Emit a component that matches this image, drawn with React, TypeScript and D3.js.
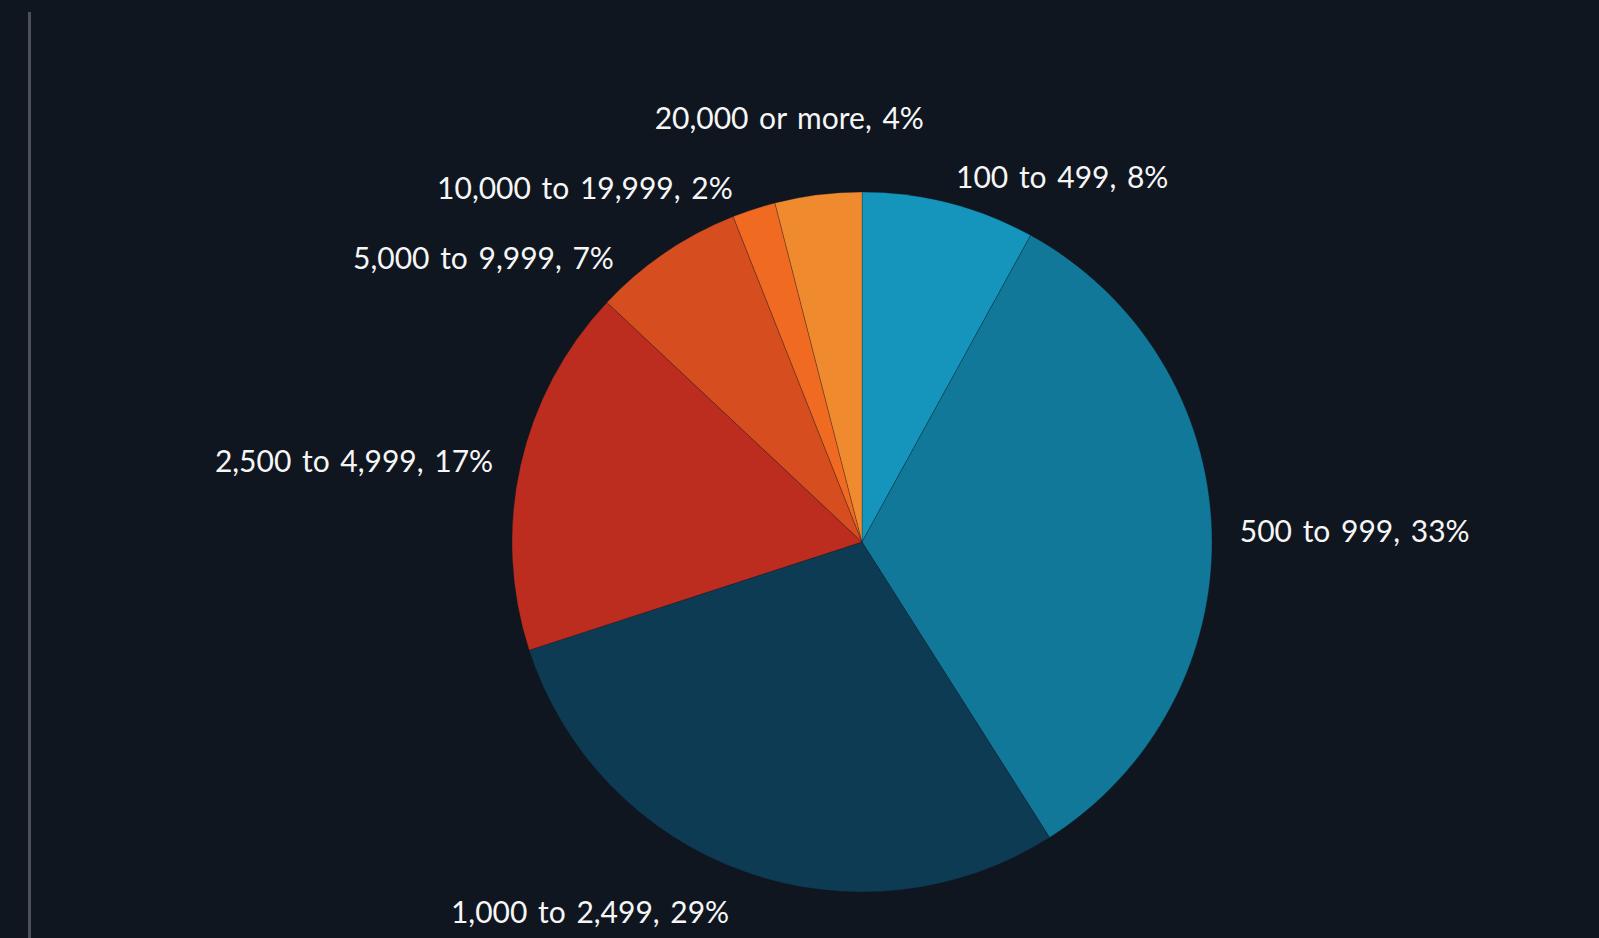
import React, { useMemo } from "react";
import * as d3 from "d3";

const categories = [
  "100 to 499",
  "500 to 999",
  "1,000 to 2,499",
  "2,500 to 4,999",
  "5,000 to 9,999",
  "10,000 to 19,999",
  "20,000 or more",
];
const shares = [8, 33, 29, 17, 7, 2, 4];
const sliceColors = ["#1594bc", "#127899", "#0e3b54", "#bc2d1f", "#d64e20", "#f06a22", "#f08a2f"];

const W = 1599;
const H = 938;
const BG = "#0f1620";
const FONT = "'Source Sans Pro', Lato, 'Open Sans', sans-serif";
const FONT_SIZE = 30;
const WORD_SPACING = 3;

type Lab = {
  text: string;
  v: number;
  s: number;
  c: number;
  anchor: "start" | "end" | "middle";
  x: number;
  y: number;
  w: number;
  side: number;
};

export default function App() {
  const cx = 862;
  const cy = 542;
  const r = 350;

  const arcs = useMemo(() => {
    const pie = d3.pie<number>().sort(null).value((d) => d);
    return pie(shares);
  }, []);

  const arcGen = d3.arc<d3.PieArcDatum<number>>().innerRadius(0).outerRadius(r);

  const labels = useMemo(() => {
    const ctx = document.createElement("canvas").getContext("2d")!;
    ctx.font = `${FONT_SIZE}px Lato`;
    const LR = r + 28;
    const LH = 30;
    const labs: Lab[] = arcs.map((a, i) => {
      const ang = (a.startAngle + a.endAngle) / 2;
      const s = Math.sin(ang);
      const c = Math.cos(ang);
      const text = `${categories[i]}, ${shares[i]}%`;
      const spaces = (text.match(/ /g) || []).length;
      const w = ctx.measureText(text).width + spaces * WORD_SPACING;
      const anchor = s > 0.2 ? "start" : s < -0.2 ? "end" : "middle";
      // labels in the lower half sit below their anchor point
      const push = c < 0 ? (-c * LH) / 2 : 0;
      const ax = cx + (LR + push) * s;
      const ay = cy - (LR + push) * c;
      return {
        text,
        v: shares[i],
        s,
        c,
        anchor,
        x: anchor === "middle" ? ax + s * w * 0.75 : ax,
        y: ay,
        w,
        side: s >= 0 ? 1 : -1,
      } as Lab;
    });
    const SEP = 70;
    const padX = 5;
    const span = (l: Lab) => {
      const x0 = l.anchor === "start" ? l.x : l.anchor === "end" ? l.x - l.w : l.x - l.w / 2;
      return [x0 - padX, x0 + l.w + padX];
    };
    for (let it = 0; it < 800; it++) {
      for (let i = 0; i < labs.length; i++) {
        for (let j = i + 1; j < labs.length; j++) {
          const a = labs[i];
          const b = labs[j];
          const [a0, a1] = span(a);
          const [b0, b1] = span(b);
          if (a1 < b0 || b1 < a0) continue;
          const dy = b.y - a.y;
          if (Math.abs(dy) >= SEP) continue;
          const D = (SEP - Math.abs(dy)) * 0.3;
          const upper = dy >= 0 ? a : b;
          const lower = dy >= 0 ? b : a;
          // larger slices hold their label position more firmly
          const tot = upper.v + lower.v;
          upper.y -= (D * lower.v) / tot;
          lower.y += (D * upper.v) / tot;
        }
      }
      for (const l of labs) {
        if (l.anchor === "middle" || l.c < 0) continue;
        const ay = l.y - cy;
        l.x = Math.abs(ay) < LR ? cx + l.side * Math.sqrt(LR * LR - ay * ay) : cx;
      }
    }
    return labs;
  }, [arcs]);

  return (
    <svg
      width={W}
      height={H}
      style={{ position: "fixed", left: 0, top: 0, display: "block", background: BG }}
    >
      <rect x={0} y={0} width={W} height={H} fill={BG} />
      <line x1={29.5} x2={29.5} y1={12} y2={H} stroke="#4b5058" strokeWidth={3} />
      <g transform={`translate(${cx},${cy})`}>
        {arcs.map((a, i) => (
          <path
            key={i}
            d={arcGen(a) || ""}
            fill={sliceColors[i]}
            stroke="rgba(15,22,32,0.35)"
            strokeWidth={0.8}
          />
        ))}
      </g>
      {labels.map((l, i) => (
        <text
          key={i}
          x={l.x}
          y={l.y}
          textAnchor={l.anchor}
          dominantBaseline="central"
          fill="#f6f6f6"
          fontFamily={FONT}
          fontSize={FONT_SIZE}
          style={{ wordSpacing: `${WORD_SPACING}px` }}
        >
          {l.text}
        </text>
      ))}
    </svg>
  );
}
